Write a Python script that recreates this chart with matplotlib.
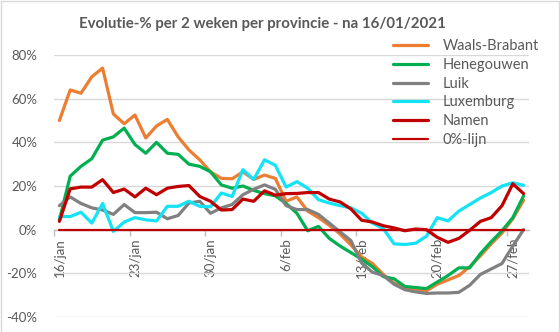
import matplotlib
matplotlib.use('Agg')
import matplotlib.pyplot as plt
import pandas as pd
from matplotlib.patches import Rectangle
from matplotlib.ticker import FixedLocator, FuncFormatter

plt.rcParams['font.family'] = ['Lato', 'DejaVu Sans']

# ---- data -------------------------------------------------------------
dates = pd.date_range('2021-01-16', '2021-02-28')
month_names = {1: 'jan', 2: 'feb'}
categories = [f"{d.day}/{month_names[d.month]}" for d in dates]
tick_labels = ['16/jan', '23/jan', '30/jan', '6/feb', '13/feb', '20/feb', '27/feb']

waals_brabant = [50, 64, 62.5, 70, 74, 53, 48.5, 52.5, 42, 47.5, 50.5, 42.5, 36.5, 32,
                 26.5, 23.5, 23.3, 26.5, 23, 25, 23.5, 13, 15, 8.5, 5.5, 2, -2, -7,
                 -12.5, -15.5, -20.5, -24.5, -26.5, -27.5, -28, -25, -23, -21, -17, -12,
                 -6.5, -1.5, 5, 13.5]
henegouwen = [4.5, 24.5, 29, 32.5, 41, 42.5, 46.5, 39, 35, 40, 35, 34.5, 30, 29,
              26.5, 20.5, 19, 20, 18, 16.5, 15.5, 12, 7.5, -0.5, 1.5, -4, -7.5, -10.5,
              -13.5, -17, -21.5, -22.5, -26, -26.5, -27, -24, -21, -17.5, -17.5, -11,
              -5.5, -0.5, 5.5, 15.5]
luik = [11, 15, 12, 10, 9, 7, 11.5, 7.8, 7.8, 8, 5, 6.5, 12.2, 13,
        7.5, 10, 11.5, 16, 18.5, 20.5, 18.5, 11, 9.2, 9.2, 7, 3, -1, -5,
        -15.3, -19.5, -21, -25, -27.5, -28.5, -29.2, -29, -29, -28.7, -25.5, -20.5,
        -18, -15.5, -7.5, 0]
luxemburg = [6, 6, 8, 3, 12, -0.8, 3.5, 5.5, 4.5, 4, 10.7, 10.7, 13, 10.7,
             10.5, 16.8, 15.2, 27.5, 23, 32, 29.5, 19.5, 22, 19, 13.7, 12.2, 11, 10,
             7.5, 3, 0.5, -6.5, -6.8, -6.2, -3, 5.5, 4, 8.5, 11.5, 14.5,
             17, 20, 21.5, 20.3]
namen = [3.8, 18.7, 19.5, 19.5, 22.9, 17, 18.6, 15, 19, 16, 19, 19.8, 20.2, 15.2,
         13, 9, 9.2, 14, 13, 17.8, 15.8, 16.5, 16.6, 17, 17, 14, 12.7, 9.5,
         4.3, 3.5, 1.8, 0.8, -0.5, 0.3, 0, -3.5, -5.8, -4, -0.3, 3.8,
         5.5, 11, 21, 16.5]
nul_lijn = [0] * len(categories)

series_names = ['Waals-Brabant', 'Henegouwen', 'Luik', 'Luxemburg', 'Namen', '0%-lijn']
series_values = [waals_brabant, henegouwen, luik, luxemburg, namen, nul_lijn]
series_colors = ['#ED7D31', '#00B050', '#808080', '#14E3F5', '#C00000', '#C00000']
series_widths = [2.3, 2.3, 2.3, 2.3, 2.3, 1.6]

# ---- figure -----------------------------------------------------------
W, H = 560, 332
fig = plt.figure(figsize=(W / 100, H / 100), dpi=100)
fig.patch.set_facecolor('white')
fig.patches.append(Rectangle((0.5 / W, 0.5 / H), 1 - 1.5 / W, 1 - 1.5 / H,
                             transform=fig.transFigure, fill=False,
                             edgecolor='#D9D9D9', linewidth=1.0))

left, right, top, bottom = 54, 529, 55, 317
ax = fig.add_axes([left / W, 1 - bottom / H, (right - left) / W, (bottom - top) / H])

x = list(range(len(categories)))
for name, vals, col, lw in zip(series_names, series_values, series_colors, series_widths):
    ax.plot(x, vals, color=col, linewidth=lw, label=name,
            solid_joinstyle='round', solid_capstyle='round', zorder=3)

ax.set_xlim(-0.5, len(categories) - 0.5)
ax.set_ylim(-40, 80)
ax.set_yticks(range(-40, 81, 20))
ax.yaxis.set_major_formatter(FuncFormatter(lambda v, p: f"{int(v)}%"))
ax.grid(axis='y', color='#D9D9D9', linewidth=1.0, zorder=0)
ax.set_axisbelow(True)

for s in ['left', 'right', 'top']:
    ax.spines[s].set_visible(False)
ax.spines['bottom'].set_position(('data', 0))
ax.spines['bottom'].set_color('#BFBFBF')
ax.spines['bottom'].set_linewidth(1.0)

tick_pos = [categories.index(t) for t in tick_labels]
ax.set_xticks(tick_pos)
ax.set_xticklabels(tick_labels, rotation=90, va='top', ha='center')
ax.xaxis.set_minor_locator(FixedLocator([p - 0.5 for p in tick_pos]))
ax.tick_params(axis='x', which='major', length=0, pad=6, labelsize=9.5, labelcolor='#595959')
ax.tick_params(axis='x', which='minor', length=4, width=1.0, color='#BFBFBF', direction='out')
ax.tick_params(axis='y', length=0, pad=12, labelsize=9.5, labelcolor='#595959')

leg = fig.legend(loc='upper left', bbox_to_anchor=(393 / W, 1 - 39 / H),
                 bbox_transform=fig.transFigure, frameon=False, fontsize=10.5,
                 handlelength=2.4, handletextpad=1.0, labelspacing=0.33,
                 borderpad=0, borderaxespad=0)
for t in leg.get_texts():
    t.set_color('#595959')

fig.text(262 / W, 1 - 24 / H, 'Evolutie-% per 2 weken per provincie - na 16/01/2021',
         ha='center', va='center', fontsize=10.8, fontweight='bold', color='#595959')

fig.savefig('out.png', dpi=100, facecolor='white')
